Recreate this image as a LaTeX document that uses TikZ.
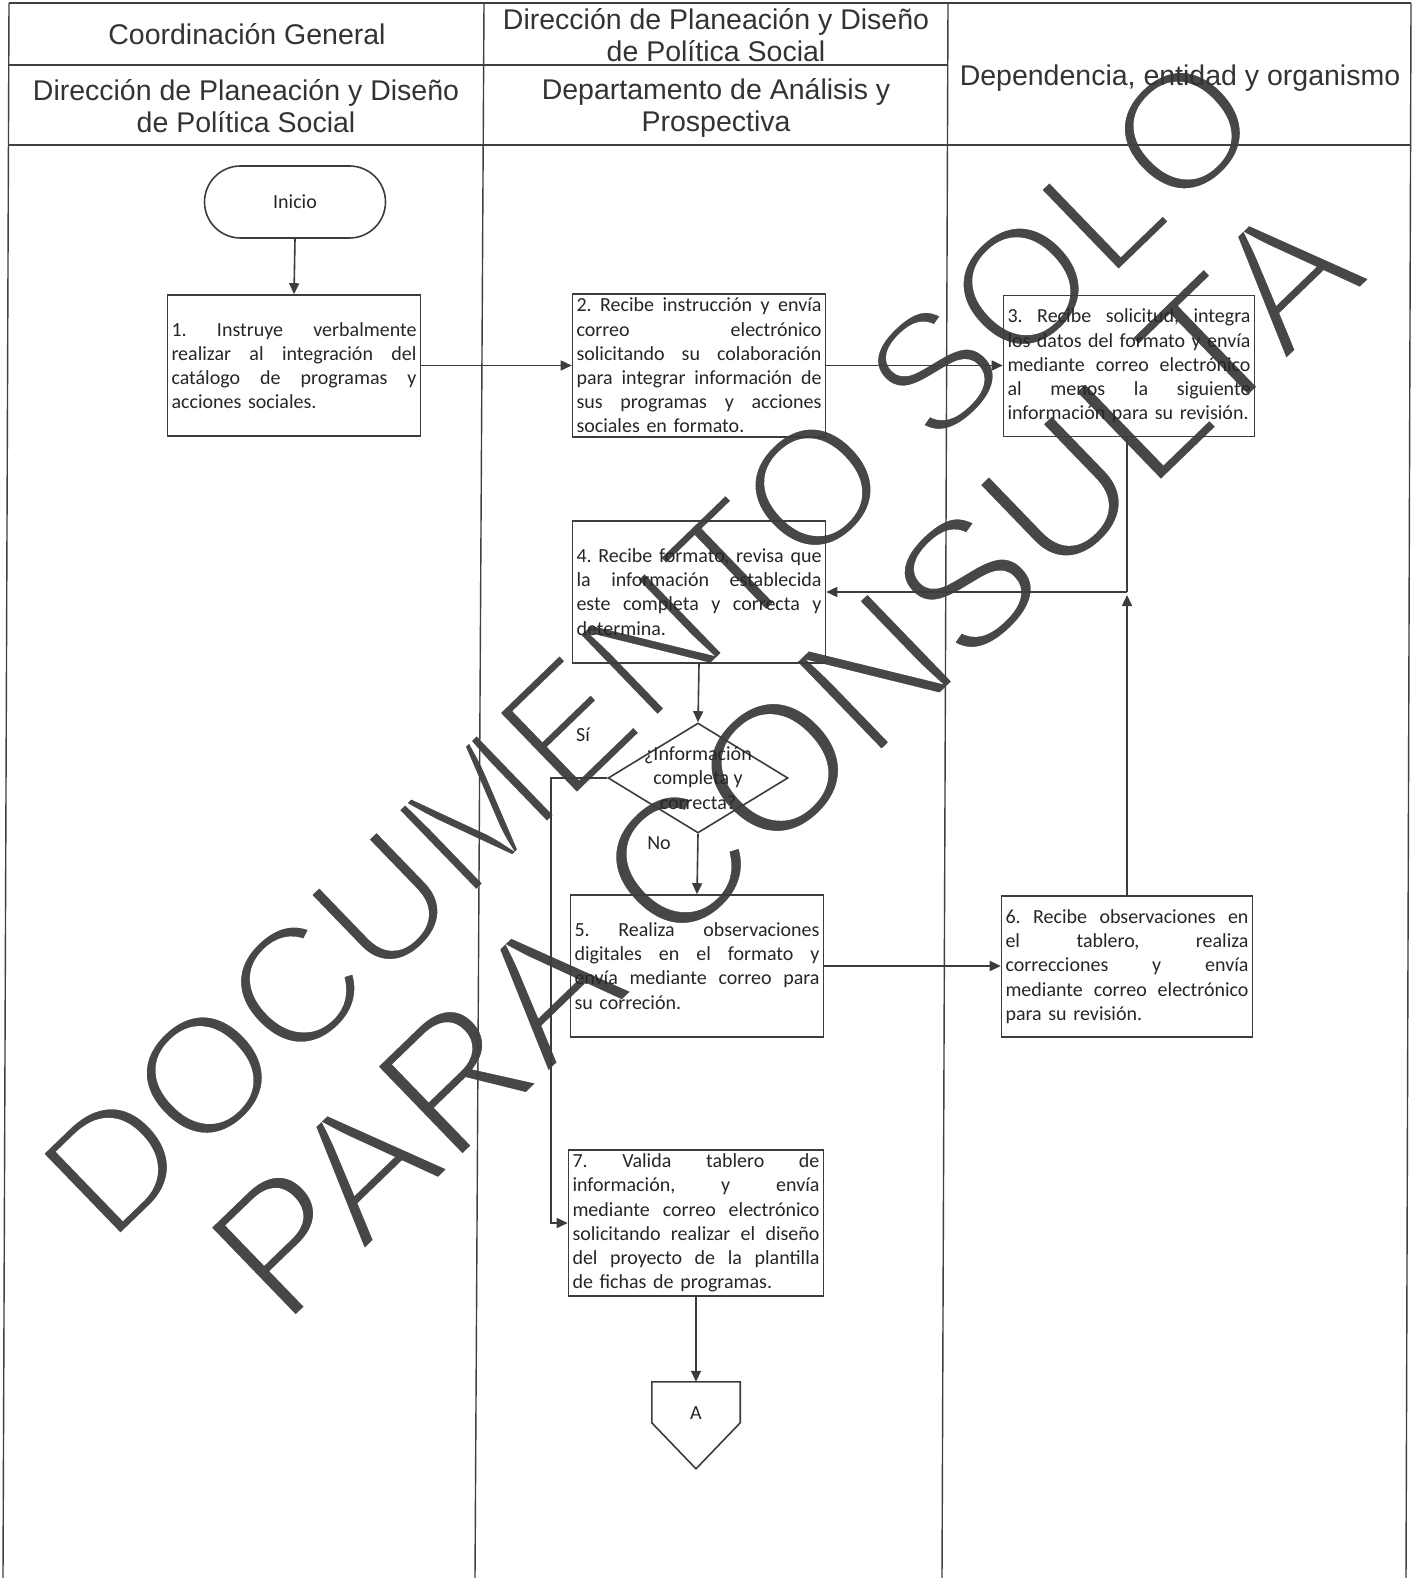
\documentclass[tikz,border=0pt]{standalone}
\usepackage{fontspec}
\setmainfont{Carlito}
\newfontfamily\arialf{Liberation Sans}
\usetikzlibrary{arrows.meta,shapes.geometric,calc}
\frenchspacing
\newlength\jlw
\setlength\jlw{245pt}
\newcommand\jl[1]{\makebox[\jlw][s]{\spaceskip=0.23em plus 1fil\relax #1}}
\newcommand\thinwm[1]{\special{pdf:literal direct 2 Tr 6 w 1 1 1 RG}#1\special{pdf:literal direct 0 Tr}}
\definecolor{ln}{HTML}{3C3C3C}
\begin{document}
\begin{tikzpicture}[x=1pt,y=-1pt,
  box/.style={draw=ln, line width=1.6pt, minimum width=253pt, minimum height=141pt, text width=245pt, inner sep=4pt, align=left, font=\fontsize{20}{24.2}\selectfont, text=black!85},
  arr/.style={draw=ln, line width=1.6pt, -{Triangle[length=11pt,width=10pt]}},
  hdr/.style={font=\arialf\fontsize{28.5}{32.5}\selectfont, text=black!80, align=center},
  tbl/.style={draw=black!75, line width=1.4pt},
  small/.style={font=\fontsize{20}{24.4}\selectfont, text=black!85},
  wmk/.style={rotate=44, inner sep=0pt, text=black!72}]
\useasboundingbox (0,0) rectangle (1418,1578);
\fill[white] (0,0) rectangle (1418,1578);
% watermark (drawn first so its thinning halo only touches the background)
\node[wmk, font=\arialf\fontsize{168}{168}\selectfont] (wm1) at (650,645) {\thinwm{DOCUMENTO SOLO}};
\node[wmk, font=\arialf\fontsize{184}{184}\selectfont] (wm2) at (785,758) {\thinwm{PARA CONSULTA}};
% table
\draw[tbl] (9,3) -- (1411,3);
\draw[tbl] (9,3) -- (3,1578);
\draw[tbl] (1411,3) -- (1406,1578);
\draw[tbl] (484,3) -- (475,1578);
\draw[tbl] (948,3) -- (942,1578);
\draw[tbl] (9,65) -- (948,65);
\draw[tbl] (9,145) -- (1411,145);
% headers
\node[hdr] (h1) at (247,34) {Coordinación General};
\node[hdr] (h2) at (716,35) {Dirección de Planeación y Diseño\\de Política Social};
\node[hdr] (h3) at (246,106) {Dirección de Planeación y Diseño\\de Política Social};
\node[hdr] (h4) at (716,108) {Departamento de Análisis y\\Prospectiva};
\node[hdr] (h5) at (1180,78) {Dependencia, entidad y organismo};
% nodes
\node[draw=ln, line width=1.6pt, rounded corners=36pt, minimum width=181pt, minimum height=72pt, small] (ini) at (295,202) {Inicio};
\node[box] (b1) at (294,365.5) {\jl{1. Instruye verbalmente}\\\jl{realizar al integración del}\\\jl{catálogo de programas y}\\acciones sociales.};
\node[box] (b2) at (699,365.5) {\jl{2. Recibe instrucción y envía}\\\jl{correo electrónico}\\\jl{solicitando su colaboración}\\\jl{para integrar información de}\\\jl{sus programas y acciones}\\sociales en formato.};
\node[box, minimum width=251pt, text width=243pt] (b3) at (1129,366) {\setlength\jlw{243pt}\jl{3. Recibe solicitud, integra}\\\jl{los datos del formato y envía}\\\jl{mediante correo electrónico}\\\jl{al menos la siguiente}\\información para su revisión.};
\node[box, minimum height=142pt] (b4) at (699,592) {\jl{4. Recibe formato, revisa que}\\\jl{la información establecida}\\\jl{este completa y correcta y}\\determina.};
\node[diamond, draw=ln, line width=1.6pt, minimum width=180pt, minimum height=110pt, inner sep=0pt] (d) at (698,778) {};
\node[small, align=center] (dq) at (d) {¿Información\\completa y\\correcta?};
\node[small] (si) at (583,735) {Sí};
\node[small] (no) at (659,843) {No};
\node[box, minimum height=142pt] (b5) at (697,966) {\jl{5. Realiza observaciones}\\\jl{digitales en el formato y}\\\jl{envía mediante correo para}\\su correción.};
\node[box, minimum width=251pt, text width=243pt] (b6) at (1127,966.5) {\setlength\jlw{243pt}\jl{6. Recibe observaciones en}\\\jl{el tablero, realiza}\\\jl{correcciones y envía}\\\jl{mediante correo electrónico}\\para su revisión.};
\node[box, minimum width=255pt, text width=247pt, minimum height=140pt] (b7) at (696,1223) {\setlength\jlw{247pt}\jl{7. Valida tablero de}\\\jl{información, y envía}\\\jl{mediante correo electrónico}\\\jl{solicitando realizar el diseño}\\\jl{del proyecto de la plantilla}\\de fichas de programas.};
\node[small, minimum width=88pt, minimum height=62pt, inner sep=0pt] (A) at (696,1413) {A};
\draw[draw=ln, line width=1.6pt] (A.north west) -- (A.north east) -- ($(A.north east)+(0,41)$) -- ($(A.north)+(0,87)$) -- ($(A.north west)+(0,41)$) -- cycle;
% connectors
\draw[arr] (ini.south) -- (b1.north);
\draw[arr] (b1.east) -- (b2.west);
\draw[arr] (b2.east) -- (b2.east -| b3.west);
\coordinate (j) at (b6.north |- b4.east);
\draw[draw=ln, line width=1.6pt] (b3.south -| j) -- (j);
\draw[arr] (j) -- (b4.east);
\draw[arr] (b6.north) -- ([yshift=-3pt]j);
\draw[arr] (b4.south) -- (d.north);
\draw[arr] (d.south) -- (b5.north);
\draw[arr] (d.west) -- ($(d.west)+(-56,0)$) |- (b7.west);
\draw[arr] (b5.east) -- (b5.east -| b6.west);
\draw[arr] (b7.south) -- (A.north);
\end{tikzpicture}
\end{document}
